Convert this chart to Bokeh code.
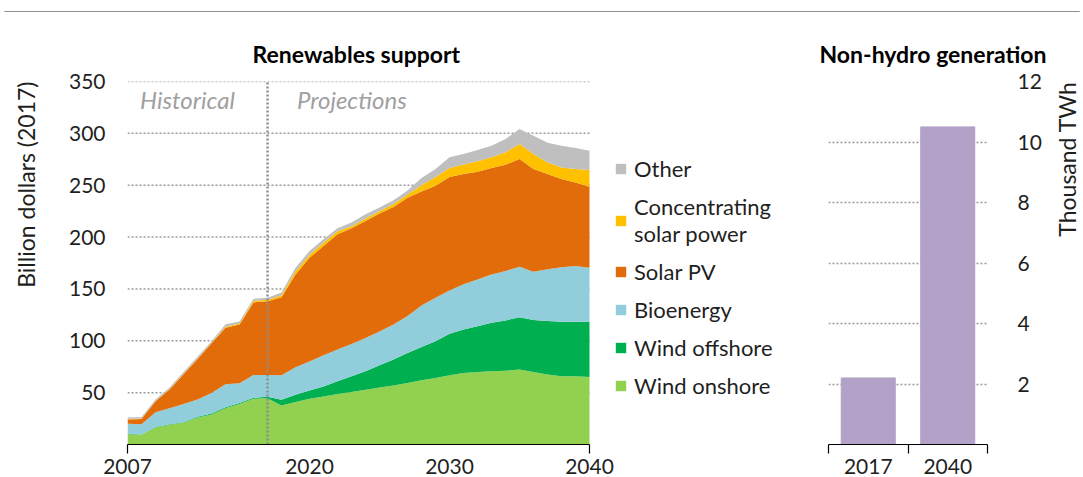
import math
from bokeh.plotting import figure
from bokeh.models import (ColumnDataSource, FixedTicker, Legend, LegendItem, Label, Span, Range1d, Title)
from bokeh.layouts import row, column
from bokeh.embed import file_html
from bokeh.resources import INLINE

# ---------------- data ----------------
years = list(range(2007, 2041))
wind_onshore = [10, 9.4, 16.4, 19, 21, 26, 29, 35, 39, 44,
                44.5, 37.7, 41, 44, 46.4, 48.7, 50.6, 52.9, 55, 57,
                59.3, 62, 64, 66.7, 69, 70, 70.6, 71.2, 72.2, 70,
                67.4, 65.8, 65.8, 65]
wind_offshore = [0.3, 0.3, 0.4, 0.5, 0.5, 0.7, 1.0, 1.0, 1.0, 1.0,
                 1.5, 5.5, 7, 8, 9.6, 12.3, 15.2, 17.7, 21.4, 25,
                 29, 32, 35.6, 40, 42, 44, 46.7, 48.4, 50.6, 50,
                 51.6, 52.5, 52.5, 53.3]
bioenergy = [9.7, 9.8, 14.2, 15.5, 17.5, 16.8, 19.6, 22, 19, 22,
             21, 23.5, 26.5, 28, 30, 30.5, 31.2, 32.2, 32.6, 33.7,
             35.5, 40, 41.9, 41.9, 43.4, 45, 46.7, 47.7, 48.7, 46.6,
             50, 52.7, 53.7, 52.2]
solar_pv = [4, 5, 10.6, 18, 28.7, 39, 48, 54.5, 56.7, 70,
            71, 75.3, 89.5, 100, 105.5, 111.3, 111.6, 112.8, 113.7, 113.3,
            114.2, 110, 108, 109.4, 106.4, 104, 102.6, 102.5, 103.8, 99,
            91.8, 85, 80.7, 78]
csp = [0.5, 0.5, 0.4, 0.5, 0.5, 0.5, 0.6, 1.0, 1.0, 1.5,
       1.5, 2, 3, 3, 3, 2.7, 1.9, 2.4, 2.3, 3,
       3, 6, 8.5, 8.6, 9.2, 10, 10.4, 11.9, 14.5, 14.4,
       11.2, 11, 12.9, 16.2]
other = [1.5, 1.5, 1.5, 1.5, 1.8, 1.5, 1.3, 2.5, 1.8, 2,
         2, 2.5, 3.5, 3.5, 3.5, 3.1, 3.5, 4, 3.5, 3.6,
         4, 7, 7.6, 10.4, 10, 11, 11, 12.9, 14.5, 17.8,
         19, 21, 20.4, 18.6]
series_names = ["Wind onshore", "Wind offshore", "Bioenergy", "Solar PV",
                "Concentrating\nsolar power", "Other"]
y_ticks = [50, 100, 150, 200, 250, 300, 350]
x_ticks = [2007, 2020, 2030, 2040]
projection_start = 2017

bar_categories = ["2017", "2040"]
bar_values = [2.2, 10.5]
bar_ticks = [2, 4, 6, 8, 10, 12]

# ---------------- style ----------------
FONT = "Lato"
TXT = "#1f1f1f"
GRID = "#9a9a9a"
colors = ["#92D050", "#00B050", "#92CDDC", "#E36C0A", "#FFC000", "#BFBFBF"]
BAR = "#B3A2C7"
FRAME_H = 363
TOP = 12
BOTTOM = 33
DATA_W = 462      # pixel width of the 2007-2040 area
FRAME_W = 662     # frame also hosts the legend to the right of the data


def side_title(text, standoff):
    return Title(text=text, align="right", vertical_align="bottom", standoff=standoff,
                 offset=0, text_font=FONT, text_font_style="normal",
                 text_font_size="23px", text_color=TXT)


def strip(border_left, text, standoff):
    s = figure(frame_width=1, frame_height=FRAME_H, min_border_left=border_left,
               min_border_right=0, min_border_top=TOP, min_border_bottom=BOTTOM,
               x_axis_location=None, y_axis_location=None,
               output_backend="svg", toolbar_location=None, outline_line_color=None)
    s.xgrid.visible = False
    s.ygrid.visible = False
    s.add_layout(side_title(text, standoff), "left")
    return s


def style_xaxis(ax):
    ax.axis_line_color = "black"
    ax.axis_line_width = 1.2
    ax.major_tick_line_color = None
    ax.major_tick_out = 0
    ax.major_tick_in = 0
    ax.minor_tick_line_color = "black"
    ax.minor_tick_line_width = 1.2
    ax.minor_tick_out = 9
    ax.minor_tick_in = 0
    ax.major_label_standoff = 5
    ax.major_label_text_font = FONT
    ax.major_label_text_font_size = "21px"
    ax.major_label_text_color = TXT


def style_yaxis(ax, standoff):
    ax.axis_line_color = None
    ax.major_tick_line_color = None
    ax.minor_tick_line_color = None
    ax.major_tick_out = 0
    ax.major_label_standoff = standoff
    ax.major_label_text_font = FONT
    ax.major_label_text_font_size = "21px"
    ax.major_label_text_color = TXT


# ---------------- top rule ----------------
rule = figure(width=1080, height=12, min_border_left=4, min_border_right=0,
              min_border_top=11, min_border_bottom=0,
              x_axis_location=None, y_axis_location=None,
              output_backend="svg", toolbar_location=None,
              outline_line_color="#909090", outline_line_width=1)
rule.xgrid.visible = False
rule.ygrid.visible = False

# ---------------- heading strip with the two panel titles ----------------
head = figure(width=1080, height=57, min_border=0,
              x_axis_location=None, y_axis_location=None,
              output_backend="svg", toolbar_location=None, outline_line_color=None)
head.xgrid.visible = False
head.ygrid.visible = False
for tx, txt in [(248, "Renewables support"), (815, "Non-hydro generation")]:
    head.add_layout(Label(x=tx, y=16, x_units="screen", y_units="screen", text=txt,
                          text_font=FONT, text_font_style="bold", text_font_size="23px",
                          text_color="black", text_align="left", text_baseline="middle"))

# ---------------- left unit label strip ----------------
left_strip = strip(39, "Billion dollars (2017)", 0)

# ---------------- left chart ----------------
src = ColumnDataSource(dict(year=years, s0=wind_onshore, s1=wind_offshore, s2=bioenergy,
                            s3=solar_pv, s4=csp, s5=other))

x_end = years[-1] + (FRAME_W - DATA_W) * (years[-1] - years[0]) / DATA_W
p = figure(frame_width=FRAME_W, frame_height=FRAME_H, min_border_left=87, min_border_right=0,
           min_border_top=TOP, min_border_bottom=BOTTOM,
           x_range=Range1d(years[0], x_end), y_range=Range1d(0, 350),
           output_backend="svg", toolbar_location=None, outline_line_color=None)

p.xgrid.visible = False
p.ygrid.visible = False
p.segment(x0=[years[0]] * len(y_ticks), y0=y_ticks, x1=[years[-1]] * len(y_ticks), y1=y_ticks,
          line_color=GRID, line_dash="2 2", line_width=1.5)

rends = p.varea_stack(stackers=["s0", "s1", "s2", "s3", "s4", "s5"], x="year",
                      color=colors, source=src)

p.yaxis.ticker = FixedTicker(ticks=y_ticks)
style_yaxis(p.yaxis[0], 22)

p.xaxis.ticker = FixedTicker(ticks=x_ticks, minor_ticks=[years[0], years[-1]])
p.xaxis.bounds = (years[0], years[-1])
style_xaxis(p.xaxis[0])

p.segment(x0=[projection_start], y0=[0], x1=[projection_start], y1=[y_ticks[-1]],
          line_color="#8c8c8c", line_dash="2 2", line_width=2.5)

p.add_layout(Label(x=2007.9, y=333, text="Historical", text_font=FONT, text_font_style="italic",
                   text_font_size="24px", text_color="#a0a0a0", text_baseline="middle"))
p.add_layout(Label(x=2019.1, y=333, text="Projections", text_font=FONT, text_font_style="italic",
                   text_font_size="24px", text_color="#a0a0a0", text_baseline="middle"))

items = [LegendItem(label=series_names[i], renderers=[rends[i]]) for i in range(5, -1, -1)]
legend = Legend(items=items, location=(487, 45), padding=0, margin=0,
                border_line_color=None, background_fill_alpha=0,
                glyph_width=13, glyph_height=13, label_standoff=7, spacing=11,
                label_text_font=FONT, label_text_font_size="22px", label_text_color=TXT,
                label_text_line_height=1.3)
p.add_layout(legend)

# ---------------- right chart ----------------
bx = [i + 0.5 for i in range(len(bar_categories))]
bsrc = ColumnDataSource(dict(x=bx, top=bar_values))
q = figure(frame_width=159, frame_height=FRAME_H, min_border_left=39, min_border_right=55,
           min_border_top=TOP, min_border_bottom=BOTTOM,
           x_range=Range1d(0, len(bar_categories)), y_range=Range1d(0, 12),
           y_axis_location="right",
           output_backend="svg", toolbar_location=None, outline_line_color=None)
q.vbar(x="x", top="top", width=0.68, bottom=0, color=BAR, source=bsrc)

q.xgrid.grid_line_color = None
q.ygrid.ticker = FixedTicker(ticks=bar_ticks)
q.ygrid.grid_line_color = GRID
q.ygrid.grid_line_dash = "2 2"
q.ygrid.grid_line_width = 1.5
q.ygrid.level = "underlay"

q.yaxis.ticker = FixedTicker(ticks=bar_ticks)
style_yaxis(q.yaxis[0], 30)

q.xaxis.ticker = FixedTicker(ticks=bx, minor_ticks=list(range(len(bar_categories) + 1)))
q.xaxis.major_label_overrides = {bx[i]: bar_categories[i] for i in range(len(bx))}
style_xaxis(q.xaxis[0])

# ---------------- right unit label strip ----------------
right_strip = strip(37, "Thousand TWh", 2)

layout = column(rule, head, row(left_strip, p, q, right_strip))

html = file_html(layout, INLINE)
html = html.replace("</head>", "<style>html,body{overflow:hidden;}</style></head>", 1)
open("out.html", "w").write(html)
